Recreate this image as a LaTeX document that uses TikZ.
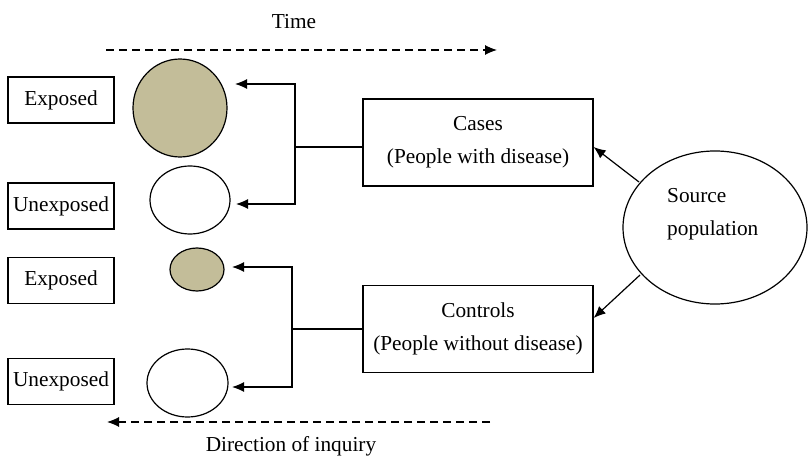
\documentclass[tikz,border=0pt]{standalone}
\usepackage{fontspec}
\setmainfont{Liberation Serif}
\usetikzlibrary{shapes.geometric,arrows.meta}
\definecolor{tanfill}{RGB}{195,189,153}
\begin{document}
\begin{tikzpicture}[x=1pt,y=-1pt,
  every node/.style={font=\fontsize{21.3}{33}\selectfont},
  lbox/.style={draw,line width=1.2pt,minimum width=106pt,minimum height=46pt,inner sep=0pt},
  gbox/.style={draw,line width=1.2pt,minimum width=230pt,minimum height=87pt,inner sep=0pt,align=center},
  oval/.style={draw,line width=1.2pt,ellipse,inner sep=0pt},
  conn/.style={line width=1.2pt},
  arr/.style={line width=1.2pt,-{Latex[length=12pt,width=10pt]}},
  dasharr/.style={line width=1.1pt,dash pattern=on 8pt off 5pt,-{Latex[length=12pt,width=10pt]}}]
\useasboundingbox (0,0) rectangle (808,462);

% top time arrow
\node (time) at (294,22) {Time};
\coordinate (ts) at (106,50);
\coordinate (te) at (497,50);
\draw[dasharr] (ts) -- (te);

% bottom inquiry arrow
\node (inq) at (291,446) {Direction of inquiry};
\coordinate (is) at (490,422);
\coordinate (ie) at (107,422);
\draw[dasharr] (is) -- (ie);

% left label boxes
\node[lbox] (e1) at (61,100) {Exposed};
\node[lbox] (u1) at (61,206) {Unexposed};
\node[lbox] (e2) at (61,280.5) {Exposed};
\node[lbox] (u2) at (61,381.5) {Unexposed};

% circles
\node[oval,fill=tanfill,minimum width=94pt,minimum height=98pt] (c1) at (180,108) {};
\node[oval,minimum width=80pt,minimum height=68pt] (c2) at (190,200) {};
\node[oval,fill=tanfill,minimum width=54pt,minimum height=43pt] (c3) at (197,269.5) {};
\node[oval,minimum width=81pt,minimum height=68pt] (c4) at (187.5,383) {};

% group boxes
\node[gbox] (cases) at (478,142.5) {Cases\\(People with disease)};
\node[gbox] (ctrl) at (478,329) {Controls\\(People without disease)};

% source population
\node[oval,minimum width=184pt,minimum height=153pt] (src) at (715,227.5) {};
\node[anchor=west,align=left,inner sep=0pt] (srct) at (667,214) {Source\\population};

% brackets
\coordinate (j1) at (295,147);
\coordinate (t1) at (235,84);
\coordinate (t2) at (236,204);
\draw[conn] (cases.west |- j1) -- (j1);
\draw[arr] (j1) |- (t1);
\draw[arr] (j1) |- (t2);

\coordinate (j2) at (292,329);
\coordinate (t3) at (232,267);
\coordinate (t4) at (232,387);
\draw[conn] (ctrl.west) -- (j2);
\draw[arr] (j2) |- (t3);
\draw[arr] (j2) |- (t4);

% source arrows
\coordinate (s1) at (639,182);
\coordinate (s2) at (640,275);
\draw[arr] (s1) -- (cases.east |- 0,147);
\draw[arr] (s2) -- (ctrl.east |- 0,318);
\end{tikzpicture}
\end{document}
